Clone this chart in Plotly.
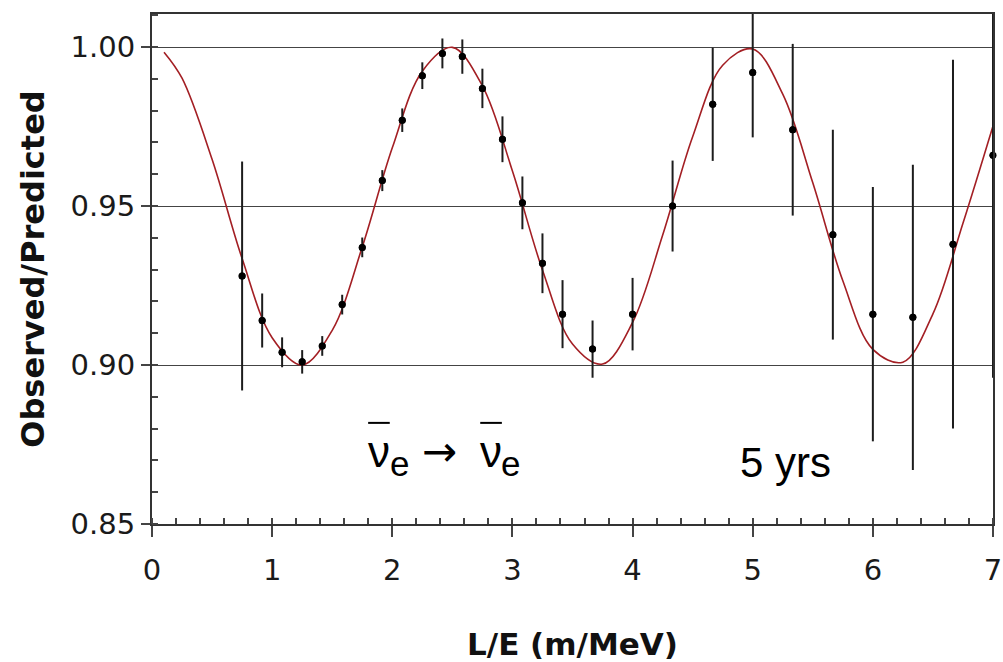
import plotly.graph_objects as go

# Measured survival ratio vs L/E, with statistical errors
le_points = [0.75, 0.917, 1.083, 1.25, 1.417, 1.583, 1.75, 1.917, 2.083, 2.25,
             2.417, 2.583, 2.75, 2.917, 3.083, 3.25, 3.417, 3.667, 4.0, 4.333,
             4.667, 5.0, 5.333, 5.667, 6.0, 6.333, 6.667, 7.0]
ratio = [0.928, 0.914, 0.904, 0.901, 0.906, 0.919, 0.937, 0.958, 0.977, 0.991,
         0.998, 0.997, 0.987, 0.971, 0.951, 0.932, 0.916, 0.905, 0.916, 0.950,
         0.982, 0.992, 0.974, 0.941, 0.916, 0.915, 0.938, 0.966]
ratio_err = [0.036, 0.0085, 0.0047, 0.0037, 0.0031, 0.0031, 0.0031, 0.0033, 0.0037, 0.0042,
             0.0047, 0.0054, 0.0062, 0.0072, 0.0083, 0.0094, 0.0107, 0.009, 0.0114, 0.0143,
             0.0178, 0.0204, 0.027, 0.033, 0.040, 0.048, 0.058, 0.07]

# Oscillation expectation
le_curve = [0.1, 0.25, 0.5, 0.75, 1.0, 1.25, 1.5, 1.75, 2.0, 2.25, 2.5, 2.75, 3.0, 3.25,
            3.5, 3.75, 4.0, 4.25, 4.5, 4.75, 5.0, 5.25, 5.5, 5.75, 6.0, 6.25, 6.5, 6.75, 7.0]
expected = [0.9984, 0.9902, 0.9647, 0.9335, 0.9086, 0.9000, 0.9109, 0.9371, 0.9683, 0.9924,
            0.9999, 0.9878, 0.9610, 0.9299, 0.9066, 0.9003, 0.9134, 0.9408, 0.9718, 0.9943,
            0.9994, 0.9852, 0.9573, 0.9265, 0.9049, 0.9009, 0.9161, 0.9446, 0.9752]

y_ticks = [0.85, 0.90, 0.95, 1.00]
y_labels = ["0.85", "0.90", "0.95", "1.00"]

X_RANGE = [0, 7]
Y_RANGE = [0.85, 1.0104]
TICK_FONT = dict(family="DejaVu Sans", size=29, color="#1a1a1a")
TEXT_FONT = "Liberation Sans, Arial, sans-serif"

fig = go.Figure()

fig.add_trace(go.Scatter(
    x=le_curve, y=expected, mode="lines",
    line=dict(color="#a31f24", width=1.6, shape="spline"),
    hoverinfo="skip", xaxis="x", yaxis="y",
))

# error bars (clipped to the frame)
fig.add_trace(go.Scatter(
    x=le_points, y=ratio, mode="markers",
    marker=dict(size=7, color="black"),
    error_y=dict(type="data", array=ratio_err, visible=True,
                 thickness=2, width=0, color="#1c1c1c"),
    cliponaxis=True, xaxis="x2", yaxis="y2",
))
# data points drawn on top, unclipped at the frame edge
fig.add_trace(go.Scatter(
    x=le_points, y=ratio, mode="markers",
    marker=dict(size=7, color="black"),
    cliponaxis=False, xaxis="x2", yaxis="y2",
))

# overbars of the anti-neutrino symbols
for xc in (1.889, 2.822):
    fig.add_shape(type="line", xref="x", yref="y",
                  x0=xc - 0.09, x1=xc + 0.09, y0=0.8818, y1=0.8818,
                  line=dict(color="black", width=2))

annotations = [
    dict(x=1.889, y=0.8728, text="ν", size=44, family=TEXT_FONT),
    dict(x=2.060, y=0.8690, text="e", size=35, family=TEXT_FONT),
    dict(x=2.389, y=0.8728, text="→", size=42, family="DejaVu Sans"),
    dict(x=2.822, y=0.8728, text="ν", size=44, family=TEXT_FONT),
    dict(x=2.988, y=0.8690, text="e", size=35, family=TEXT_FONT),
    dict(x=5.277, y=0.8692, text="5 yrs", size=42, family=TEXT_FONT),
]
for a in annotations:
    fig.add_annotation(x=a["x"], y=a["y"], xref="x", yref="y", text=a["text"],
                       showarrow=False, xanchor="center", yanchor="middle",
                       font=dict(family=a["family"], size=a["size"], color="black"))

fig.update_layout(
    width=1003, height=662,
    margin=dict(l=152, r=10, t=14, b=138, autoexpand=False),
    paper_bgcolor="white", plot_bgcolor="white",
    showlegend=False,
    xaxis=dict(
        range=X_RANGE, dtick=1, tick0=0, automargin=False,
        ticks="outside", ticklen=11, tickwidth=1.5, tickcolor="#444444",
        minor=dict(dtick=0.2, ticks="inside", ticklen=6, tickwidth=1.5, tickcolor="#444444", showgrid=False),
        showline=True, linecolor="#333333", linewidth=2, mirror=True,
        showgrid=False, zeroline=False,
        tickfont=TICK_FONT, ticklabelstandoff=8,
        title=dict(text="<b>L/E (m/MeV)</b>", standoff=50,
                   font=dict(family="DejaVu Sans", size=31, color="#111111")),
    ),
    yaxis=dict(
        range=Y_RANGE, tickvals=y_ticks, ticktext=y_labels, automargin=False,
        ticks="outside", ticklen=9, tickwidth=1.5, tickcolor="#444444",
        minor=dict(dtick=0.01, tick0=0.85, ticks="inside", ticklen=6, tickwidth=1.5, tickcolor="#444444", showgrid=False),
        showline=True, linecolor="#333333", linewidth=2, mirror=True,
        showgrid=True, gridcolor="#444444", gridwidth=1, zeroline=False,
        tickfont=TICK_FONT, ticklabelstandoff=0,
        title=dict(text="<b>Observed/Predicted</b>", standoff=16,
                   font=dict(family="DejaVu Sans", size=32, color="#111111")),
    ),
    xaxis2=dict(
        range=X_RANGE, overlaying="x", anchor="y", dtick=1, tick0=0, automargin=False,
        ticks="inside", ticklen=6, tickwidth=1.5, tickcolor="#444444",
        showticklabels=False, showline=False, showgrid=False, zeroline=False,
    ),
    yaxis2=dict(
        range=Y_RANGE, overlaying="y", anchor="x", tickvals=y_ticks, automargin=False,
        ticks="inside", ticklen=6, tickwidth=1.5, tickcolor="#444444",
        showticklabels=False, showline=False, showgrid=False, zeroline=False,
    ),
)

fig.write_html("out.html")
